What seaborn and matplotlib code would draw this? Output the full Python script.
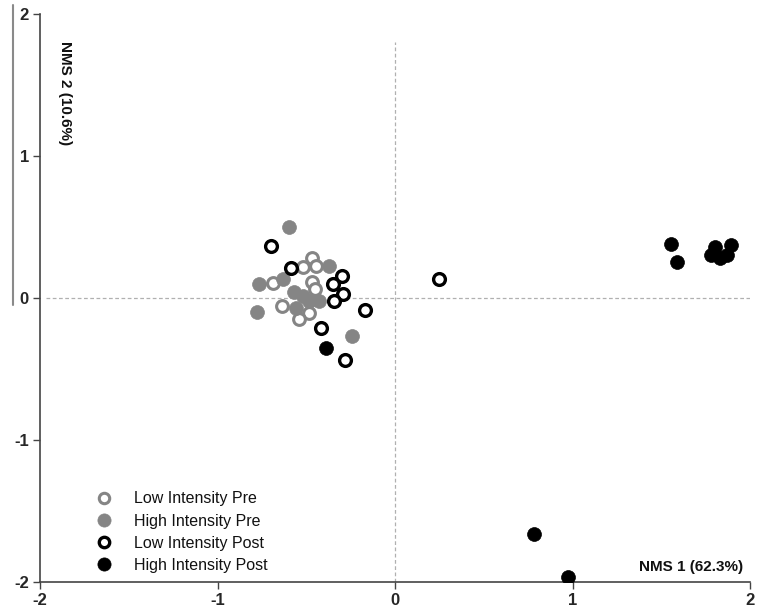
import matplotlib
matplotlib.use("Agg")
import matplotlib.pyplot as plt
import matplotlib.lines as mlines
import seaborn as sns
import pandas as pd

sns.set_theme(style="white")
plt.rcParams['font.family'] = ['Liberation Sans', 'DejaVu Sans']

# ---- data (NMS ordination scores) ----
low_pre_x = [-0.468, -0.517, -0.446, -0.689, -0.468, -0.449, -0.639, -0.483, -0.543]
low_pre_y = [0.284, 0.218, 0.225, 0.108, 0.115, 0.061, -0.056, -0.103, -0.150]

high_pre_x = [-0.596, -0.764, -0.630, -0.370, -0.567, -0.520, -0.487, -0.430, -0.558, -0.780, -0.240]
high_pre_y = [0.500, 0.096, 0.136, 0.225, 0.044, 0.014, -0.021, -0.021, -0.068, -0.096, -0.270]

low_post_x = [-0.700, -0.586, -0.296, -0.352, -0.292, -0.343, -0.170, -0.417, -0.280, 0.250]
low_post_y = [0.366, 0.209, 0.155, 0.096, 0.026, -0.021, -0.085, -0.213, -0.440, 0.134]

high_post_x = [-0.390, 1.555, 1.590, 1.800, 1.895, 1.780, 1.830, 1.870, 0.785, 0.977]
high_post_y = [-0.350, 0.378, 0.256, 0.360, 0.373, 0.300, 0.284, 0.300, -1.660, -1.965]

group_names = ["Low Intensity Pre", "High Intensity Pre", "Low Intensity Post", "High Intensity Post"]
x_ticks = [-2, -1, 0, 1, 2]
y_ticks = [-2, -1, 0, 1, 2]
x_label = "NMS 1 (62.3%)"
y_label = "NMS 2 (10.6%)"

df = pd.concat([
    pd.DataFrame({"x": low_pre_x, "y": low_pre_y, "group": group_names[0]}),
    pd.DataFrame({"x": high_pre_x, "y": high_pre_y, "group": group_names[1]}),
    pd.DataFrame({"x": low_post_x, "y": low_post_y, "group": group_names[2]}),
    pd.DataFrame({"x": high_post_x, "y": high_post_y, "group": group_names[3]}),
], ignore_index=True)

gray = "#858585"
styles = {
    group_names[0]: dict(facecolor="white", edgecolor=gray, lw=2.2, s=72),
    group_names[1]: dict(facecolor=gray, edgecolor=gray, lw=0.5, s=100),
    group_names[2]: dict(facecolor="white", edgecolor="black", lw=2.4, s=72),
    group_names[3]: dict(facecolor="black", edgecolor="black", lw=0.5, s=100),
}

fig = plt.figure(figsize=(7.66, 6.12), dpi=100)
ax = fig.add_axes([40 / 766, 30 / 612, 710 / 766, 568 / 612])

# reference lines
ax.axhline(0, xmin=0.008, xmax=1.0, color="#b0b0b0", lw=0.9, ls=(0, (3, 2)), zorder=0)
ax.axvline(0, ymin=0.0, ymax=0.95, color="#b0b0b0", lw=0.9, ls=(0, (3, 2)), zorder=0)

handles = []
for g in group_names:
    st = styles[g]
    sub = df[df["group"] == g]
    sns.scatterplot(data=sub, x="x", y="y", ax=ax, s=st["s"], color=st["facecolor"],
                    edgecolor=st["edgecolor"], linewidth=st["lw"], zorder=3, legend=False)
    filled = st["facecolor"] != "white"
    handles.append(mlines.Line2D([], [], linestyle="none", marker="o",
                                 markersize=9.5 if filled else 7.5,
                                 markerfacecolor=st["facecolor"], markeredgecolor=st["edgecolor"],
                                 markeredgewidth=0.5 if filled else st["lw"], label=g))

ax.set_xlim(-2, 2)
ax.set_ylim(-2, 2)
ax.set_xticks(x_ticks)
ax.set_yticks(y_ticks)
ax.set_xticklabels([str(t) for t in x_ticks], fontweight="bold", fontsize=12)
ax.set_yticklabels([str(t) for t in y_ticks], fontweight="bold", fontsize=12)
ax.set_xlabel("")
ax.set_ylabel("")
ax.tick_params(axis="both", direction="out", length=5, width=1, color="#444444", pad=3,
               bottom=True, left=True)

for side in ["top", "right"]:
    ax.spines[side].set_visible(False)
for side in ["left", "bottom"]:
    ax.spines[side].set_color("#444444")
    ax.spines[side].set_linewidth(1.2)

ax.text(1.96, -1.894, x_label, ha="right", va="center", fontsize=11, fontweight="bold", color="#111111")
ax.text(-1.86, 1.44, y_label, ha="center", va="center", rotation=270, fontsize=11,
        fontweight="bold", color="#111111")

leg = ax.legend(handles=handles, loc="lower left", bbox_to_anchor=(0.068, 0.016), frameon=False,
                fontsize=11.5, labelspacing=0.45, handlelength=2.0, handletextpad=0.85,
                borderpad=0, borderaxespad=0)
for t in leg.get_texts():
    t.set_color("#111111")

# stray vertical line at far left (as in the reference)
fig.add_artist(mlines.Line2D([13 / 766, 13 / 766], [1 - 5 / 612, 1 - 305 / 612],
                             transform=fig.transFigure, color="#8a8a8a", lw=1.5))

fig.savefig("out.png", dpi=100)
